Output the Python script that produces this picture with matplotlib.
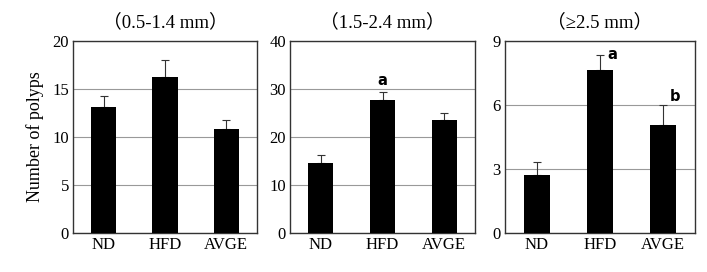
import numpy as np
import matplotlib.pyplot as plt

plt.rcParams['font.family'] = ['Liberation Serif', 'Noto Sans CJK JP']

groups = ["ND", "HFD", "AVGE"]
titles = ["（0.5-1.4 mm）", "（1.5-2.4 mm）", "（≥2.5 mm）"]
means = [[13.1, 16.2, 10.8],
         [14.6, 27.7, 23.6],
         [2.7, 7.65, 5.05]]
errs = [[1.2, 1.8, 1.0],
        [1.6, 1.7, 1.5],
        [0.65, 0.7, 0.95]]
ymax = [20, 40, 9]
ysteps = [5, 10, 3]
marks = [[None, None, None],
         [None, "a", None],
         [None, "a", "b"]]
# letter offsets (x in category units, y as fraction of ymax)
mark_off = {(1, 1): (0.0, 0.06), (2, 1): (0.19, 0.0), (2, 2): (0.19, 0.045)}

fig = plt.figure(figsize=(7.07, 2.72), dpi=100)
boxes = [(73, 257), (290, 475), (505, 695)]
top, bottom = 41, 233
W, H = 707, 272

x = np.arange(len(groups))
for i in range(3):
    l, r = boxes[i]
    ax = fig.add_axes([l / W, 1 - bottom / H, (r - l) / W, (bottom - top) / H])
    ax.bar(x, means[i], width=0.41, color="black", zorder=3)
    ax.errorbar(x, means[i], yerr=[np.zeros(3), errs[i]], fmt="none",
                ecolor="#333333", elinewidth=0.8, capsize=3, capthick=0.8, zorder=2)
    ax.set_xlim(-0.5, 2.5)
    ax.set_ylim(0, ymax[i])
    ax.set_yticks(np.arange(0, ymax[i] + 0.01, ysteps[i]))
    ax.yaxis.grid(True, color="#999999", linewidth=0.8, zorder=0)
    ax.set_xticks(x)
    ax.set_xticklabels(groups, fontsize=12)
    ax.tick_params(length=0, labelsize=12, pad=3)
    for s in ax.spines.values():
        s.set_color("#333333")
        s.set_linewidth(1.0)
    ax.set_title(titles[i], fontsize=13.5, pad=10)
    for j, m in enumerate(marks[i]):
        if m:
            dx, dy = mark_off[(i, j)]
            ax.text(x[j] + dx, means[i][j] + errs[i][j] + dy * ymax[i], m,
                    ha="center", va="center", family="DejaVu Sans",
                    fontweight="bold", fontsize=10.5)
    if i == 0:
        ax.set_ylabel("Number of polyps", fontsize=13, labelpad=6)

fig.savefig("out.png", dpi=100)
